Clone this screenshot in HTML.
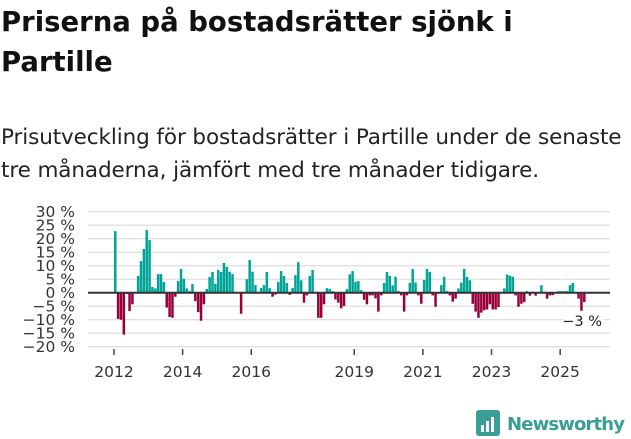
<!DOCTYPE html>
<html><head><meta charset="utf-8"><style>
body{margin:0;width:631px;height:439px;background:#fff;font-family:"DejaVu Sans",sans-serif;overflow:hidden;position:relative}
h1{position:absolute;left:1px;top:2px;margin:0;font-size:27.5px;line-height:40px;font-weight:bold;color:#111}
p{position:absolute;left:1px;top:121px;margin:0;font-size:21.5px;line-height:33px;color:#222;white-space:nowrap;letter-spacing:-0.1px}
svg{position:absolute;left:0;top:0}
</style></head><body>
<h1>Priserna på bostadsrätter sjönk i<br>Partille</h1>
<p>Prisutveckling för bostadsrätter i Partille under de senaste<br>tre månaderna, jämfört med tre månader tidigare.</p>
<svg id="chart" width="631" height="439" font-family="DejaVu Sans, sans-serif"></svg>
<script>
const startYear = 2012;
const values = [22.8,-9.7,-10,-15.5,-0.5,-6.8,-4.3,0,6.2,11.7,16.2,23.2,19.5,2.1,1.6,6.9,6.9,4,-5.5,-9,-9.3,-1.5,4.3,8.8,5.1,1.6,0.6,3.2,-3.1,-7.2,-10.4,-4.3,1.4,5.8,7.7,3.3,8.4,7.7,11,9.5,7.8,6.9,0,0,-7.8,0,5,12.1,7.8,2.8,0,1.7,2.8,7.7,1.7,-1.5,-0.7,4,8,6.2,3.6,-0.8,1.8,6.5,11.3,4.6,-3.7,-1,6.2,8.4,0,-9.3,-9.3,-4.3,1.7,1.4,0.6,-2.5,-3.7,-5.8,-4.9,1.4,6.8,8,4,4.3,0.9,-2.6,-4.3,-1,-1,-2.1,-7,-1,3.6,7.7,6.2,2.7,5.9,0.6,-1,-7,-1,3.6,8.8,3.8,-1,-4.1,4.7,8.8,7.7,-1,-5.2,0,2.8,5.9,0.6,-1,-3.3,-2.2,1.6,3.7,8.8,5.8,4.6,-4.1,-7,-9.3,-7.4,-6.5,-6.2,-4.3,-6.2,-6.2,-5.3,0,1.6,6.7,6.3,5.9,-1,-5.2,-4.1,-3.5,0.6,-1.1,0.4,-1.1,0,2.8,0,-2.2,-1,-0.9,0.1,0.6,0.6,0.6,0.6,2.8,3.6,0,-2.2,-6.7,-3.5];
const yTicks = [30,25,20,15,10,5,0,-5,-10,-15,-20];
const xTickYears = [2012,2014,2016,2019,2021,2023,2025];
const lastLabel = "−3 %";

const NS="http://www.w3.org/2000/svg";
const svg=document.getElementById('chart');
const y0=292.7, pxPer=2.7, x0=114, pxMonth=2.86;
const yS=v=>y0-v*pxPer;
const xS=m=>x0+m*pxMonth;
function mk(t,a){const e=document.createElementNS(NS,t);for(const k in a)e.setAttribute(k,a[k]);svg.appendChild(e);return e;}
yTicks.forEach(v=>{
  if(v!==0){const g=mk('line',{x1:88,x2:610,y1:yS(v),y2:yS(v),stroke:'#e0e0e0','stroke-width':1.3});
  
  }
  const t=mk('text',{x:75,y:yS(v)+5.5,'text-anchor':'end','font-size':15.5,fill:'#333'});
  
  
  t.textContent=(v<0?'−'+(-v):v)+' %';
});
values.forEach((v,i)=>{
  if(v===0)return;
  const y=yS(Math.max(v,0)), h=Math.abs(v)*pxPer;
  const r=mk('rect',{x:xS(i),y:y,width:2.5,height:h,fill:v>0?'#00a597':'#990038'});
  
  
});
const z=mk('line',{x1:88,x2:610,y1:y0,y2:y0,stroke:'#333','stroke-width':2});


xTickYears.forEach(yr=>{
  const x=xS((yr-startYear)*12);
  const tk=mk('line',{x1:x,x2:x,y1:349,y2:355,stroke:'#444','stroke-width':1.5});
  
  
  const t=mk('text',{x:x,y:377,'text-anchor':'middle','font-size':15.5,fill:'#333'});
  
  
  t.textContent=yr;
});
const li=values.length-1;
const bg=mk('rect',{x:xS(li)-20,y:311,width:40,height:18,fill:'#fff'});


const lt=mk('text',{x:xS(li)+19,y:326,'text-anchor':'end','font-size':14.5,fill:'#222'});


lt.textContent=lastLabel;
</script>
<svg width="631" height="439" style="position:absolute;left:0;top:0">
  <rect x="476" y="410" width="24" height="26" rx="3" fill="#3a9e96"/>
  <rect x="481" y="425" width="3" height="7" fill="#fff"/><rect x="486" y="421" width="3" height="11" fill="#fff"/><rect x="491" y="417" width="3" height="15" fill="#fff"/>
  <text x="507" y="430" font-size="18" font-weight="bold" fill="#3a9e96" font-family="DejaVu Sans, sans-serif" textLength="118">Newsworthy</text>
</svg>
</body></html>
